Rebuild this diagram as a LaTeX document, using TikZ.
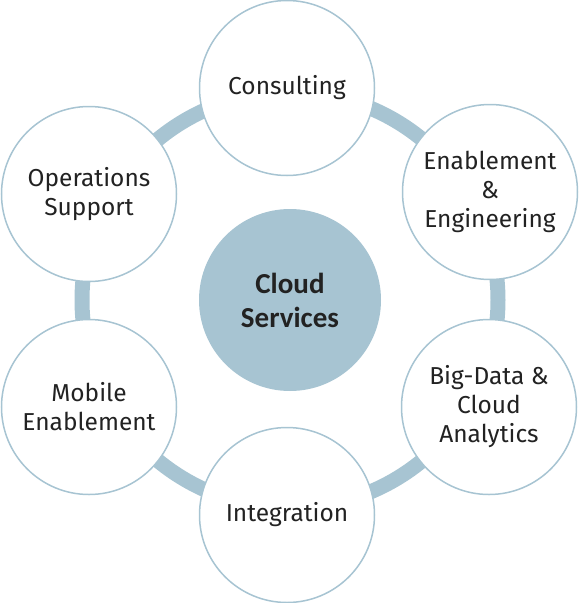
\documentclass[tikz,border=0pt]{standalone}
\usepackage{fontspec}
\setmainfont{Fira Sans}
\newfontfamily\hubfont{Carlito}
\usetikzlibrary{backgrounds}
\definecolor{ringblue}{HTML}{A7C4D2}
\definecolor{txtgray}{HTML}{222222}

\begin{document}
\begin{tikzpicture}[x=1pt,y=-1pt,
		item/.style={circle,draw=ringblue,line width=1.5pt,fill=white,minimum size=175pt,inner sep=0pt,
			align=center,text=txtgray,font=\fontsize{24.5}{29}\selectfont},
		hub/.style={circle,fill=ringblue,minimum size=182pt,inner sep=0pt,
			align=center,text=txtgray,font=\hubfont\bfseries\fontsize{29}{34}\selectfont},
		ring/.style={draw=ringblue,line width=15pt}]
		\useasboundingbox (0,0) rectangle (580,603);
		\path (290,300) node(cloud)[hub] {Cloud\\Services}
		(287,88) node(consult)[item] {Consulting}
		(490,192) node(enable)[item] {Enablement\\\&\\Engineering}
		(489,407) node(bigdata)[item] {Big-Data \&\\Cloud\\Analytics}
		(287,515) node(integr)[item] {Integration}
		(89,407) node(mobile)[item] {Mobile\\Enablement}
		(89,194) node(ops)[item] {Operations\\Support};
		% ring behind the outer circles
		\begin{scope}[on background layer]
			\draw[ring] (cloud.center) circle[radius=208pt];
		\end{scope}
	\end{tikzpicture}
\end{document}
